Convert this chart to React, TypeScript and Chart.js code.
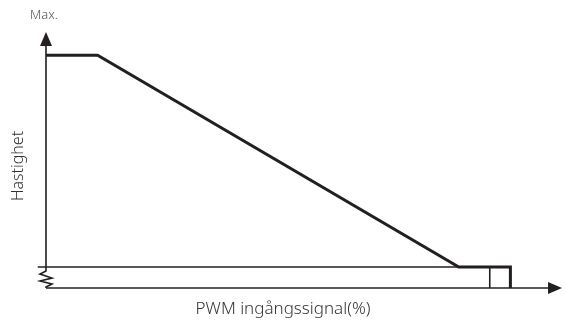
import React, { useEffect, useRef } from "react";
import { Chart, registerables } from "chart.js";

Chart.register(...registerables);

// PWM input signal (%) vs. speed (% of max)
const curveX = [0, 10, 80, 90, 90];
const curveY = [100, 100, 9, 9, 0];
const minLineX = [-1.6, 90];
const minLineY = [9, 9];
const markerX = [86, 86];
const markerY = [0, 9];
const xLabel = "PWM ingångssignal(%)";
const yLabel = "Hastighet";
const maxLabel = "Max.";

const INK = "#231f20";

const decorPlugin = {
  id: "decor",
  afterDraw(chart: any) {
    const { ctx, scales } = chart;
    const xs = scales.x;
    const ys = scales.y;
    const x0 = xs.getPixelForValue(0);
    const y0 = ys.getPixelForValue(0);
    const xEnd = xs.getPixelForValue(xs.max);
    const yTop = ys.getPixelForValue(ys.max);
    const yMin = ys.getPixelForValue(9);
    ctx.save();
    ctx.strokeStyle = INK;
    ctx.fillStyle = INK;
    ctx.lineWidth = 1.6;
    // x axis
    ctx.beginPath();
    ctx.moveTo(x0, y0);
    ctx.lineTo(xEnd - 10, y0);
    ctx.stroke();
    ctx.beginPath();
    ctx.moveTo(xEnd, y0);
    ctx.lineTo(xEnd - 14, y0 - 6);
    ctx.lineTo(xEnd - 14, y0 + 6);
    ctx.closePath();
    ctx.fill();
    // y axis with break
    ctx.beginPath();
    ctx.moveTo(x0, yTop + 10);
    ctx.lineTo(x0, yMin + 4);
    ctx.lineTo(x0 - 6, yMin + 7);
    ctx.lineTo(x0 + 6, yMin + 11);
    ctx.lineTo(x0 - 6, yMin + 14);
    ctx.lineTo(x0 + 6, yMin + 17);
    ctx.lineTo(x0, yMin + 20);
    ctx.lineTo(x0, y0);
    ctx.stroke();
    ctx.beginPath();
    ctx.moveTo(x0, yTop);
    ctx.lineTo(x0 - 6, yTop + 14);
    ctx.lineTo(x0 + 6, yTop + 14);
    ctx.closePath();
    ctx.fill();
    // texts
    ctx.fillStyle = "#555";
    ctx.font = "300 13px 'Noto Sans'";
    ctx.textAlign = "left";
    ctx.textBaseline = "alphabetic";
    ctx.fillText(maxLabel, 30, 19);
    ctx.fillStyle = "#333";
    ctx.font = "300 17px 'Noto Sans'";
    ctx.textAlign = "center";
    ctx.textBaseline = "alphabetic";
    ctx.fillText(xLabel, 283, 314);
    ctx.save();
    ctx.translate(23, 166);
    ctx.rotate(-Math.PI / 2);
    ctx.font = "300 16px 'Noto Sans'";
    ctx.fillText(yLabel, 0, 0);
    ctx.restore();
    ctx.restore();
  },
};

export default function App() {
  const ref = useRef<HTMLCanvasElement>(null);
  useEffect(() => {
    if (!ref.current) return;
    const pts = (xs: number[], ys: number[]) => xs.map((x, i) => ({ x, y: ys[i] }));
    const chart = new Chart(ref.current, {
      type: "scatter",
      data: {
        datasets: [
          {
            data: pts(minLineX, minLineY),
            showLine: true,
            borderColor: INK,
            borderWidth: 1.6,
            pointRadius: 0,
            clip: false as any,
          },
          {
            data: pts(markerX, markerY),
            showLine: true,
            borderColor: INK,
            borderWidth: 1.6,
            pointRadius: 0,
            clip: false as any,
          },
          {
            data: pts(curveX, curveY),
            showLine: true,
            borderColor: INK,
            borderWidth: 3,
            pointRadius: 0,
            borderJoinStyle: "miter",
            clip: false as any,
          },
        ],
      },
      options: {
        responsive: false,
        animation: false,
        layout: { padding: { left: 46, right: 4, top: 32, bottom: 33 } },
        plugins: { legend: { display: false }, tooltip: { enabled: false } },
        scales: {
          x: { type: "linear", min: 0, max: 100, display: false },
          y: { type: "linear", min: 0, max: 110, display: false },
        },
      },
      plugins: [decorPlugin],
    });
    return () => chart.destroy();
  }, []);
  return (
    <div style={{ position: "fixed", left: 0, top: 0, width: 566, height: 321, background: "#fff" }}>
      <canvas ref={ref} width={566} height={321} />
    </div>
  );
}
